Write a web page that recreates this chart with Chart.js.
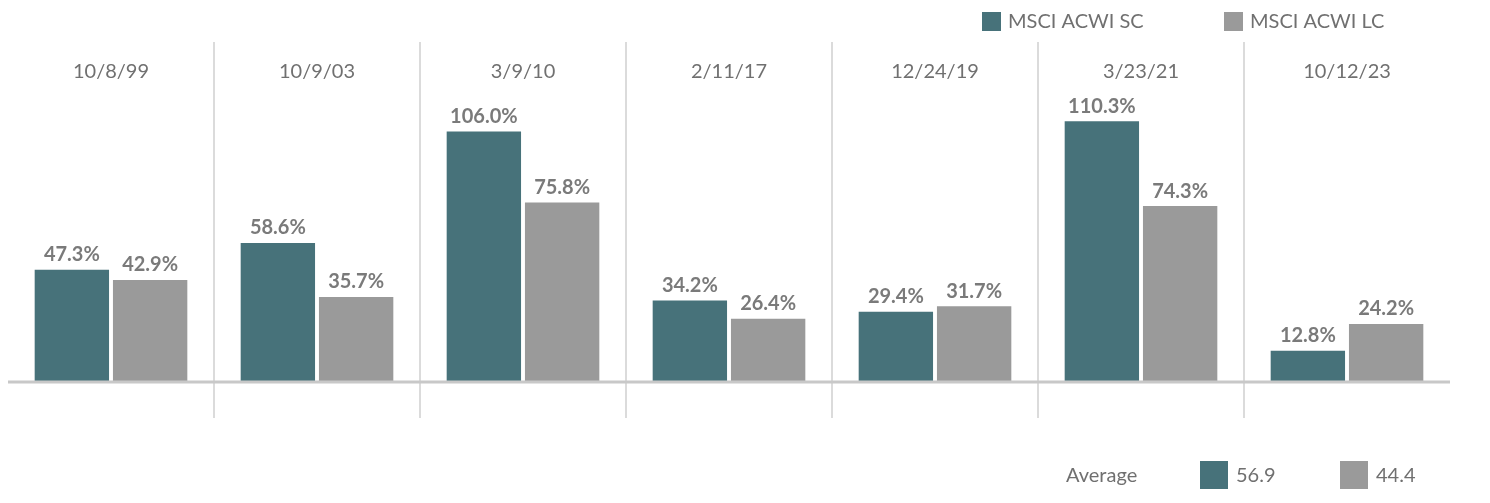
<!DOCTYPE html>
<html><head><meta charset="utf-8">
<script src="https://cdn.jsdelivr.net/npm/chart.js@4"></script>
<style>html,body{margin:0;padding:0;background:#fff}#w{width:1490px;height:503px}</style>
</head><body><div id="w"><canvas id="c"></canvas></div>
<script>
const categories = ['10/8/99','10/9/03','3/9/10','2/11/17','12/24/19','3/23/21','10/12/23'];
const scValues = [47.3,58.6,106.0,34.2,29.4,110.3,12.8];
const lcValues = [42.9,35.7,75.8,26.4,31.7,74.3,24.2];
const seriesNames = ['MSCI ACWI SC','MSCI ACWI LC'];
const averages = [56.9,44.4];
const SC='#47727a', LC='#9a9a9a';
const FONT='Lato, "Open Sans", sans-serif';

const deco = {
  id:'deco',
  afterDatasetsDraw(chart){
    const {ctx, chartArea:a, scales:{x,y}} = chart;
    ctx.save();
    // separators
    ctx.strokeStyle='#cfcfcf'; ctx.lineWidth=1.5;
    for(let i=0;i<categories.length-1;i++){
      const px=(x.getPixelForValue(i)+x.getPixelForValue(i+1))/2;
      ctx.beginPath();ctx.moveTo(px,42);ctx.lineTo(px,418);ctx.stroke();
    }
    // baseline
    ctx.strokeStyle='#c8c8c8'; ctx.lineWidth=3;
    const by=y.getPixelForValue(0);
    ctx.beginPath();ctx.moveTo(a.left,by+1);ctx.lineTo(a.right,by+1);ctx.stroke();
    // category labels
    ctx.fillStyle='#707070'; ctx.font='20px '+FONT; ctx.textAlign='center'; ctx.textBaseline='middle';
    categories.forEach((c,i)=>ctx.fillText(c,x.getPixelForValue(i),72));
    // value labels
    ctx.font='bold 20px '+FONT; ctx.fillStyle='#7a7a7a'; ctx.textBaseline='bottom';
    chart.data.datasets.forEach((ds,di)=>{
      chart.getDatasetMeta(di).data.forEach((bar,i)=>{
        ctx.fillText(ds.data[i].toFixed(1)+'%',bar.x,bar.y-5);
      });
    });
    // legend
    ctx.font='20px '+FONT; ctx.textAlign='left'; ctx.textBaseline='middle'; ctx.fillStyle='#707070';
    ctx.fillStyle=SC; ctx.fillRect(982,12,19,19);
    ctx.fillStyle='#707070'; ctx.fillText(seriesNames[0],1008,22);
    ctx.fillStyle=LC; ctx.fillRect(1224,12,19,19);
    ctx.fillStyle='#707070'; ctx.fillText(seriesNames[1],1250,22);
    // averages
    ctx.fillText('Average',1066,476);
    ctx.fillStyle=SC; ctx.fillRect(1200,461,28,28);
    ctx.fillStyle='#707070'; ctx.fillText(averages[0].toFixed(1),1236,476);
    ctx.fillStyle=LC; ctx.fillRect(1340,461,28,28);
    ctx.fillStyle='#707070'; ctx.fillText(averages[1].toFixed(1),1376,476);
    ctx.restore();
  }
};

new Chart(document.getElementById('c'),{
  type:'bar',
  data:{labels:categories,datasets:[
    {label:seriesNames[0],data:scValues,backgroundColor:SC,categoryPercentage:0.76,barPercentage:0.95},
    {label:seriesNames[1],data:lcValues,backgroundColor:LC,categoryPercentage:0.76,barPercentage:0.95}
  ]},
  options:{
    responsive:true,maintainAspectRatio:false,animation:false,
    layout:{padding:{left:8,right:40,top:42,bottom:122}},
    plugins:{legend:{display:false},tooltip:{enabled:false}},
    scales:{
      x:{display:false},
      y:{display:false,min:0,max:144}
    }
  },
  plugins:[deco]
});
</script></body></html>
